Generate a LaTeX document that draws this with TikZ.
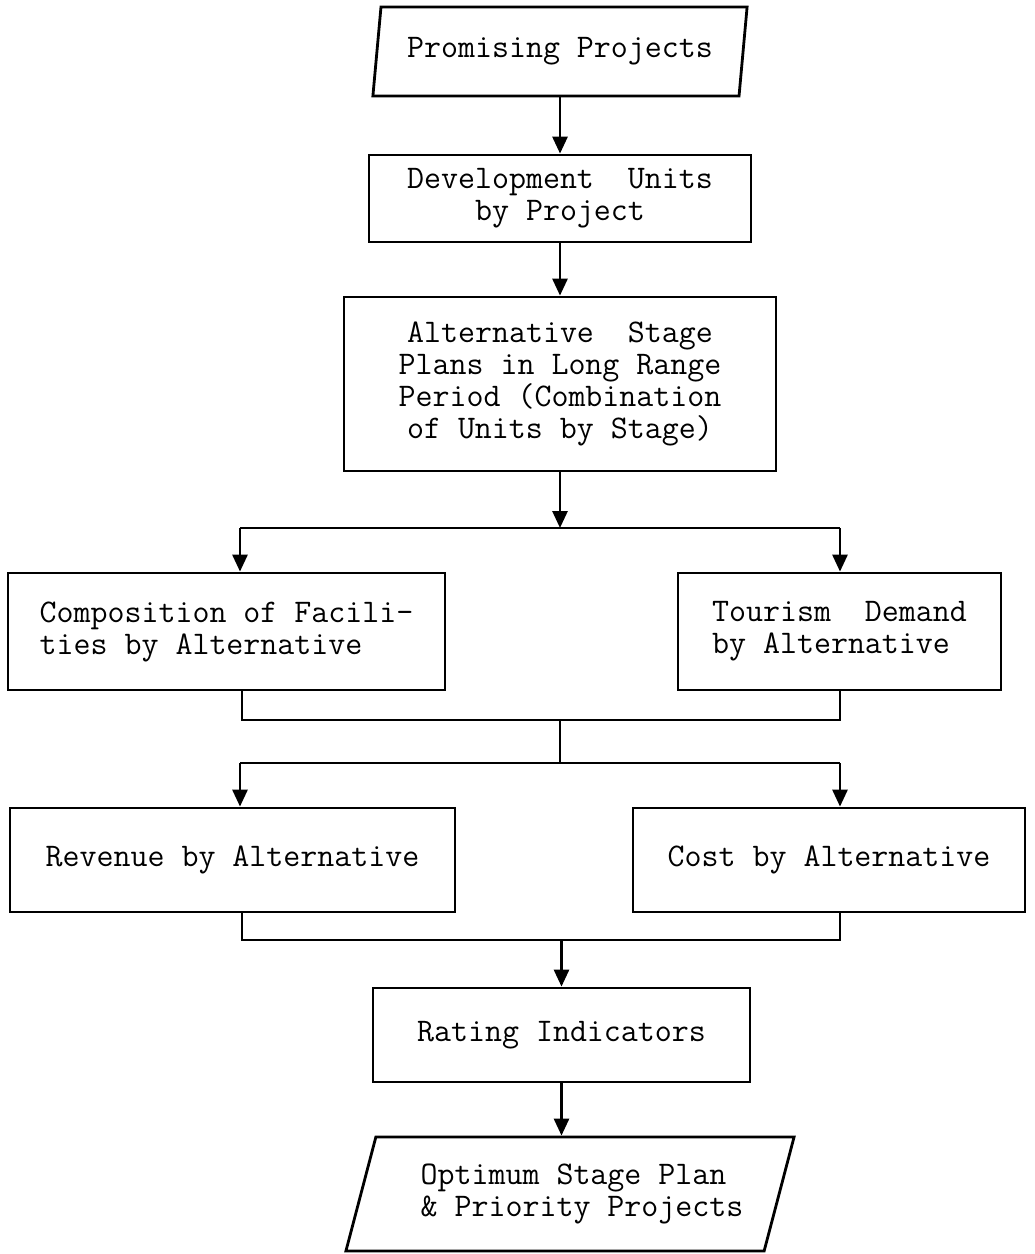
\documentclass[tikz,border=0pt]{standalone}
\usepackage{fontspec}
\usetikzlibrary{arrows.meta,shapes.geometric}
\begin{document}
\begin{tikzpicture}[x=1pt,y=-1pt,
  every node/.style={font=\ttfamily\fontsize{33}{32}\selectfont, align=center, inner sep=0pt},
  box/.style={draw, line width=2.8pt, rectangle},
  io/.style={draw, line width=2.8pt, trapezium, trapezium stretches=true},
  line/.style={line width=2.8pt},
  arr/.style={line width=2.8pt, -{Triangle[length=17pt,width=15pt]}}
]
\useasboundingbox (0,0) rectangle (1035,1254);

\node[io, trapezium left angle=76, trapezium right angle=104, minimum width=376pt, minimum height=89pt] (pp) at (560,51.5) {Promising Projects};
\node[box, minimum width=382pt, minimum height=87pt] (dev) at (560,198.5) {Development\ \ Units\\by Project};
\node[box, minimum width=432pt, minimum height=174pt] (alt) at (560,384) {Alternative\ \ Stage\\Plans in Long Range\\Period (Combination\\of Units by Stage)};
\node[box, minimum width=437pt, minimum height=117pt, align=left] (comp) at (226.5,631.5) {Composition of Facili-\\ties by Alternative};
\node[box, minimum width=323pt, minimum height=117pt, align=left] (tour) at (839.5,631.5) {Tourism\ \ Demand\\by Alternative};
\node[box, minimum width=445pt, minimum height=104pt] (rev) at (232.5,860) {Revenue by Alternative};
\node[box, minimum width=392pt, minimum height=104pt] (cost) at (829,860) {Cost by Alternative};
\node[box, minimum width=377pt, minimum height=94pt] (rate) at (561.5,1035) {Rating Indicators};
\node[io, trapezium left angle=66, trapezium right angle=114, minimum width=450pt, minimum height=114pt, align=left] (opt) at (570,1194) {\hspace*{24pt}Optimum Stage Plan\\\hspace*{24pt}\&\ Priority Projects};

\coordinate (j1) at (560,528);
\coordinate (j1L) at (240,528);
\coordinate (j1R) at (840,528);
\coordinate (j2L) at (242,720);
\coordinate (j2R) at (840,720);
\coordinate (j2) at (560,720);
\coordinate (j3) at (560,763);
\coordinate (j3L) at (240,763);
\coordinate (j3R) at (840,763);
\coordinate (j4L) at (242,940);
\coordinate (j4R) at (840,940);
\coordinate (j4) at (561.5,940);

\draw[arr] (pp.south) -- (pp.south |- dev.north);
\draw[arr] (dev.south) -- (dev.south |- alt.north);
\draw[arr] (alt.south) -- (j1);
\draw[line] (j1L) -- (j1R);
\draw[arr] (j1L) -- (j1L |- comp.north);
\draw[arr] (j1R) -- (j1R |- tour.north);
\draw[line] (j2L |- comp.south) -- (j2L) -- (j2R) -- (j2R |- tour.south);
\draw[line] (j2) -- (j3);
\draw[line] (j3L) -- (j3R);
\draw[arr] (j3L) -- (j3L |- rev.north);
\draw[arr] (j3R) -- (j3R |- cost.north);
\draw[line] (j4L |- rev.south) -- (j4L) -- (j4R) -- (j4R |- cost.south);
\draw[arr] (j4) -- (j4 |- rate.north);
\draw[arr] (rate.south) -- (rate.south |- opt.north);
\end{tikzpicture}
\end{document}
